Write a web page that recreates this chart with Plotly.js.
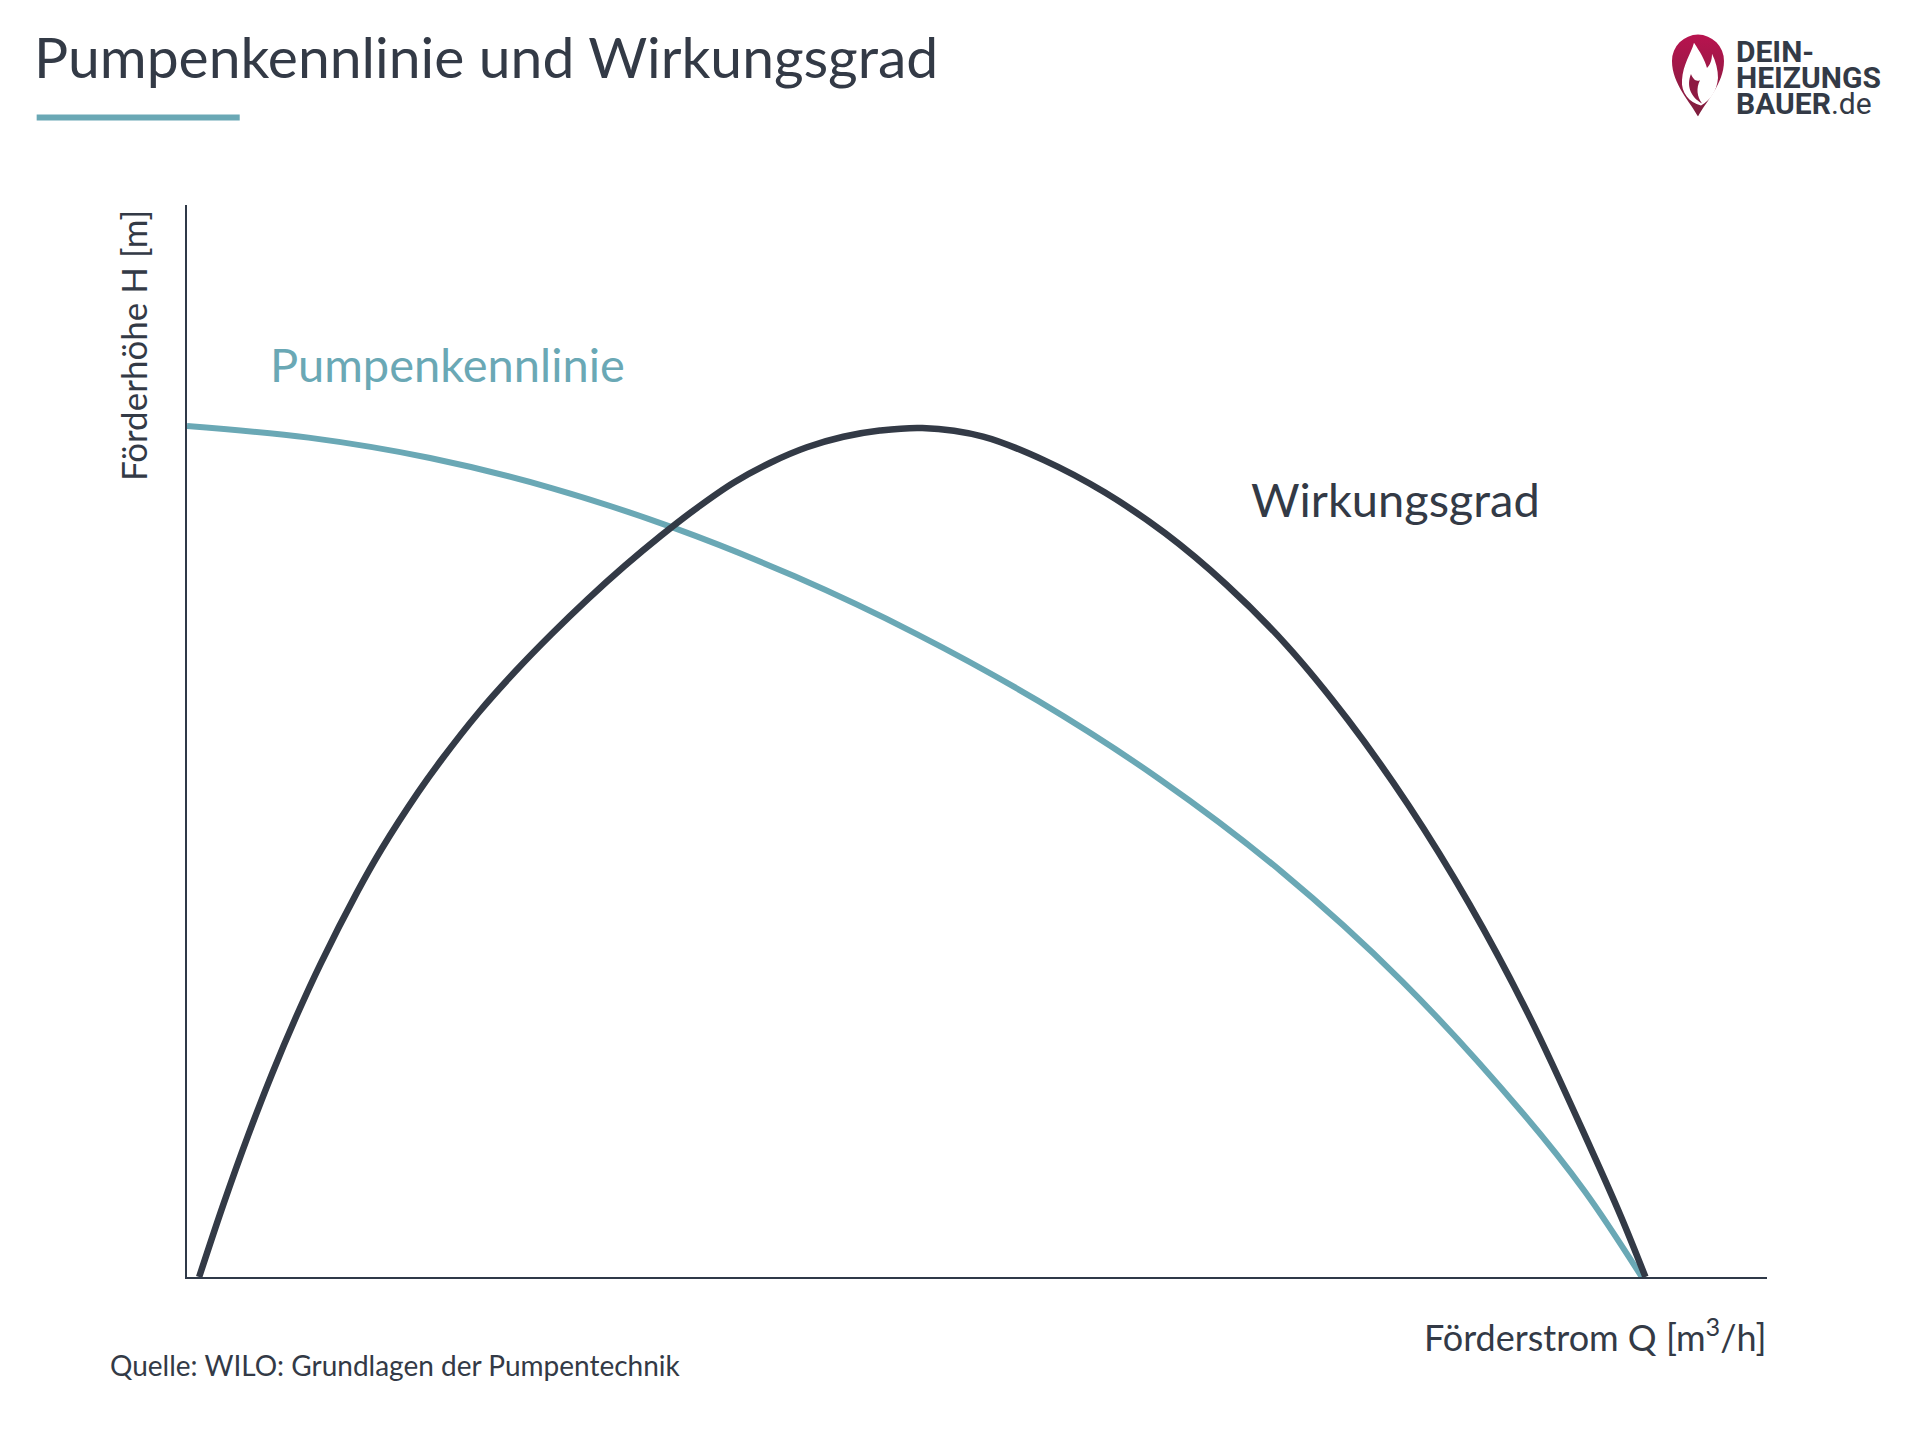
<!DOCTYPE html>
<html>
<head>
<meta charset="utf-8">
<script src="https://cdn.plot.ly/plotly-3.0.1.min.js"></script>
<style>html,body{margin:0;padding:0;background:#fff;}#chart{width:1920px;height:1440px;}</style>
</head>
<body>
<div id="chart"></div>
<script>
// ---- data (axes carry no ticks, arbitrary units) ----
const pumpQ = [0, 1, 2, 3, 4, 5, 6, 7, 8, 9, 10, 11, 11.5, 11.97];
const pumpH = [39.69, 39.15, 38.20, 36.80, 34.95, 32.68, 30.00, 26.88, 23.23, 18.93, 13.78, 7.58, 4.0, 0];

const effQ = [0.1, 0.3, 0.5, 0.7, 0.9, 1.1, 1.4, 1.6, 1.9, 2.1, 2.4, 2.7, 3.0, 3.3, 3.6, 3.9, 4.2, 4.5, 4.8, 5.1, 5.4, 5.7, 6.05,
              6.55, 7.05, 7.55, 8.05, 8.55, 9.05, 9.55, 10.05, 10.55, 11.05, 11.55, 11.8, 12.0];
const effV = [0, 3.40, 6.56, 9.48, 12.16, 14.62, 17.95, 19.95, 22.59, 24.17, 26.33, 28.24, 29.99, 31.63, 33.16, 34.58, 35.89, 37.06, 37.98, 38.70, 39.19, 39.48, 39.60,
              39.20, 38.10, 36.60, 34.68, 32.30, 29.45, 26.00, 22.00, 17.40, 12.10, 6.00, 2.80, 0];

const titleText = 'Pumpenkennlinie und Wirkungsgrad';
const xTitle = 'Förderstrom Q [m<sup>3</sup>/h]';
const yTitle = 'Förderhöhe H [m]';
const pumpLabel = 'Pumpenkennlinie';
const effLabel = 'Wirkungsgrad';
const sourceText = 'Quelle: WILO: Grundlagen der Pumpentechnik';
const logoLines = ['DEIN-', 'HEIZUNGS', 'BAUER'];
const logoSuffix = '.de';

// ---- layout helpers (pixel positions -> paper coordinates) ----
const L = 187.3, R = 1767, T = 204.5, B = 1277.2;
const px = x => (x - L) / (R - L);
const py = y => (B - y) / (B - T);

const TEAL = '#6aa8b5';
const DARK = '#333a46';
const FONT = 'Lato, "Noto Sans", sans-serif';
const LOGO_FONT = 'Roboto, "Noto Sans", sans-serif';

const pinSvg = `<svg xmlns="http://www.w3.org/2000/svg" viewBox="0 0 54 82" width="54" height="82">
<defs><linearGradient id="g" x1="0" y1="0" x2="0" y2="1"><stop offset="0" stop-color="#b8134f"/><stop offset="1" stop-color="#7d1f3d"/></linearGradient></defs>
<path d="M27,82 C20,68 1,50 1,27 A26,26 0 0 1 53,27 C53,50 34,68 27,82 Z" fill="url(#g)"/>
<path d="M23,9 C20,20 12,30 11,46 C10,58 18,68 30,71 C40,66 46,56 47,44 C47,36 45,28 41,20 C41,27 39,31 36,34 C34,26 29,18 23,9 Z" fill="#fff"/>
<path d="M20,40 C15,52 20,63 31,69 C26,62 25,54 29,46 C25,48 22,45 20,40 Z" fill="#8e1a43"/>
</svg>`;
const pinUri = 'data:image/svg+xml;charset=utf-8,' + encodeURIComponent(pinSvg);

const traces = [
  {x: pumpQ, y: pumpH, type: 'scatter', mode: 'lines', name: pumpLabel,
   line: {color: TEAL, width: 6, shape: 'spline', smoothing: 1}, hoverinfo: 'skip'},
  {x: effQ, y: effV, type: 'scatter', mode: 'lines', name: effLabel,
   line: {color: DARK, width: 6.5, shape: 'spline', smoothing: 1}, hoverinfo: 'skip'}
];

const axisCommon = {showgrid: false, zeroline: false, showticklabels: false, ticks: '',
  showline: true, linecolor: '#2f3948', linewidth: 2, fixedrange: true};

function logoAnn(text, y) {
  return {text: text, xref: 'paper', yref: 'paper', x: px(1734), y: py(y), xanchor: 'left', yanchor: 'middle',
    showarrow: false, font: {family: LOGO_FONT, size: 30, color: DARK}};
}

const layout = {
  width: 1920, height: 1440,
  margin: {l: L, r: 1920 - R, t: T, b: 1440 - B, pad: 0},
  paper_bgcolor: '#ffffff', plot_bgcolor: '#ffffff',
  showlegend: false,
  font: {family: FONT, color: DARK},
  title: {text: titleText, font: {family: FONT, size: 57, color: DARK},
    xref: 'container', yref: 'container', x: 34 / 1920, xanchor: 'left', y: 1 - 58 / 1440, yanchor: 'middle'},
  xaxis: Object.assign({range: [0, 13]}, axisCommon),
  yaxis: Object.assign({range: [0, 50]}, axisCommon),
  shapes: [
    {type: 'rect', xref: 'paper', yref: 'paper', x0: px(37), x1: px(240), y0: py(120), y1: py(114),
     fillcolor: TEAL, line: {width: 0}, layer: 'above'}
  ],
  images: [
    {source: pinUri, xref: 'paper', yref: 'paper', x: px(1671), y: py(33),
     sizex: (1725 - 1671) / (R - L), sizey: (116 - 33) / (B - T), xanchor: 'left', yanchor: 'top',
     sizing: 'stretch', layer: 'above'}
  ],
  annotations: [
    {text: pumpLabel, xref: 'paper', yref: 'paper', x: px(268), y: py(364), xanchor: 'left', yanchor: 'middle',
     showarrow: false, font: {family: FONT, size: 47, color: TEAL}},
    {text: effLabel, xref: 'paper', yref: 'paper', x: px(1249), y: py(499), xanchor: 'left', yanchor: 'middle',
     showarrow: false, font: {family: FONT, size: 47, color: DARK}},
    {text: yTitle, xref: 'paper', yref: 'paper', x: px(134), y: py(345), xanchor: 'center', yanchor: 'middle',
     textangle: -90, showarrow: false, font: {family: FONT, size: 35, color: DARK}},
    {text: xTitle, xref: 'paper', yref: 'paper', x: px(1769), y: py(1335), xanchor: 'right', yanchor: 'middle',
     showarrow: false, font: {family: FONT, size: 36, color: DARK}},
    {text: sourceText, xref: 'paper', yref: 'paper', x: px(108), y: py(1365), xanchor: 'left', yanchor: 'middle',
     showarrow: false, font: {family: FONT, size: 28, color: DARK}},
    logoAnn('<b>' + logoLines[0] + '</b>', 51),
    logoAnn('<b>' + logoLines[1] + '</b>', 77),
    logoAnn('<b>' + logoLines[2] + '</b>' + logoSuffix, 103)
  ]
};

Plotly.newPlot('chart', traces, layout, {displayModeBar: false, staticPlot: true, responsive: false});
</script>
</body>
</html>
